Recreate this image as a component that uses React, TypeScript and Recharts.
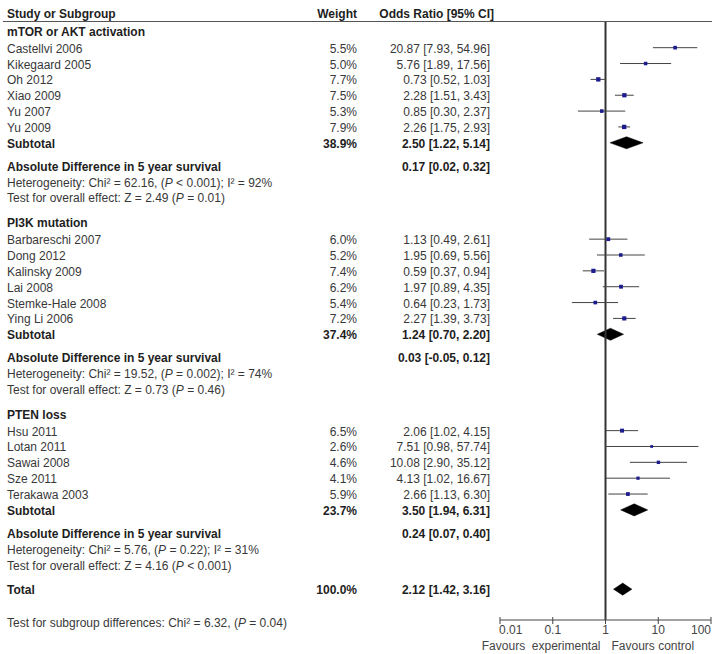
import React from 'react';
import { ScatterChart, Scatter, XAxis, YAxis, ErrorBar, ReferenceLine, ReferenceArea } from 'recharts';

// ---------------- data ----------------
const groupTitles = ['mTOR or AKT activation', 'PI3K mutation', 'PTEN loss'];

const studyLabels = [
  ['Castellvi 2006', 'Kikegaard 2005', 'Oh 2012', 'Xiao 2009', 'Yu 2007', 'Yu 2009'],
  ['Barbareschi 2007', 'Dong 2012', 'Kalinsky 2009', 'Lai 2008', 'Stemke-Hale 2008', 'Ying Li 2006'],
  ['Hsu 2011', 'Lotan 2011', 'Sawai 2008', 'Sze 2011', 'Terakawa 2003'],
];
const studyWeights = [
  [5.5, 5.0, 7.7, 7.5, 5.3, 7.9],
  [6.0, 5.2, 7.4, 6.2, 5.4, 7.2],
  [6.5, 2.6, 4.6, 4.1, 5.9],
];
const studyOR = [
  [20.87, 5.76, 0.73, 2.28, 0.85, 2.26],
  [1.13, 1.95, 0.59, 1.97, 0.64, 2.27],
  [2.06, 7.51, 10.08, 4.13, 2.66],
];
const studyLow = [
  [7.93, 1.89, 0.52, 1.51, 0.3, 1.75],
  [0.49, 0.69, 0.37, 0.89, 0.23, 1.39],
  [1.02, 0.98, 2.9, 1.02, 1.13],
];
const studyHigh = [
  [54.96, 17.56, 1.03, 3.43, 2.37, 2.93],
  [2.61, 5.56, 0.94, 4.35, 1.73, 3.73],
  [4.15, 57.74, 35.12, 16.67, 6.3],
];

const subtotalWeights = [38.9, 37.4, 23.7];
const subtotalOR = [2.5, 1.24, 3.5];
const subtotalLow = [1.22, 0.7, 1.94];
const subtotalHigh = [5.14, 2.2, 6.31];

const absDiffEst = [0.17, 0.03, 0.24];
const absDiffLow = [0.02, -0.05, 0.07];
const absDiffHigh = [0.32, 0.12, 0.4];

const hetChi = [62.16, 19.52, 5.76];
const hetP = ['< 0.001', '= 0.002', '= 0.22'];
const hetI2 = [92, 74, 31];
const testZ = [2.49, 0.73, 4.16];
const testP = ['= 0.01', '= 0.46', '< 0.001'];

const totalWeight = 100.0;
const totalOR = 2.12;
const totalLow = 1.42;
const totalHigh = 3.16;

const subgroupChi = 6.32;
const subgroupP = '= 0.04';

const axisTicks = [0.01, 0.1, 1, 10, 100];
const axisTickLabels = ['0.01', '0.1', '1', '10', '100'];
const favoursLeft = 'Favours\u00a0 experimental';
const favoursRight = 'Favours control';

// ---------------- layout / styles ----------------
const FONT = '"Liberation Sans", Arial, Helvetica, sans-serif';
const FS = 12;
const TXT = '#383838';
const BOLD = '#1e1e1e';
const COL_NAME = 7;
const COL_WEIGHT = 357;
const COL_OR = 490;
const Y_TOP = -1.62;
const Y_BOTTOM = 36.107;
const DIAMOND_HALF = 0.38;

const f2 = (v: number) => v.toFixed(2);
const orText = (e: number, l: number, h: number) => `${f2(e)} [${f2(l)}, ${f2(h)}]`;
const wText = (w: number) => `${w.toFixed(1)}%`;

type Seg = { t: string; i?: boolean };
type Row = { slot: number; label: Seg[]; weight?: string; or?: string; bold: boolean };

const rows: Row[] = [];
const points: any[] = [];
const diamonds: any[] = [];

let pos = -1.08;
groupTitles.forEach((title, g) => {
  if (g > 0) pos += 1.55;
  rows.push({ slot: pos, label: [{ t: title }], bold: true });
  pos += 1.08;
  studyLabels[g].forEach((name, i) => {
    if (i > 0) pos += 1;
    const e = studyOR[g][i], l = studyLow[g][i], h = studyHigh[g][i];
    rows.push({ slot: pos, label: [{ t: name }], weight: wText(studyWeights[g][i]), or: orText(e, l, h), bold: false });
    points.push({ slot: pos, or: e, err: [e - l, h - e], weight: studyWeights[g][i] });
  });
  pos += 1;
  rows.push({ slot: pos, label: [{ t: 'Subtotal' }], weight: wText(subtotalWeights[g]), or: orText(subtotalOR[g], subtotalLow[g], subtotalHigh[g]), bold: true });
  diamonds.push({ slot: pos, est: subtotalOR[g], lo: subtotalLow[g], hi: subtotalHigh[g] });
  pos += 1.45;
  rows.push({ slot: pos, label: [{ t: 'Absolute Difference in 5 year survival' }], or: orText(absDiffEst[g], absDiffLow[g], absDiffHigh[g]), bold: true });
  pos += 1;
  rows.push({
    slot: pos,
    label: [{ t: `Heterogeneity: Chi\u00b2 = ${f2(hetChi[g])}, (` }, { t: 'P', i: true }, { t: ` ${hetP[g]}); I\u00b2 = ${hetI2[g]}%` }],
    bold: false,
  });
  pos += 1;
  rows.push({
    slot: pos,
    label: [{ t: `Test for overall effect: Z = ${f2(testZ[g])} (` }, { t: 'P', i: true }, { t: ` ${testP[g]})` }],
    bold: false,
  });
});
pos += 1.55;
rows.push({ slot: pos, label: [{ t: 'Total' }], weight: wText(totalWeight), or: orText(totalOR, totalLow, totalHigh), bold: true });
diamonds.push({ slot: pos, est: totalOR, lo: totalLow, hi: totalHigh });

const rowSlots = rows.map((r) => r.slot);
const rowBySlot: Record<string, Row> = {};
rows.forEach((r) => (rowBySlot[r.slot.toFixed(4)] = r));

// ---------------- components ----------------
const RowTick = (props: any) => {
  const { y, payload } = props;
  const row = rowBySlot[Number(payload.value).toFixed(4)];
  if (!row) return null;
  const common = {
    fontFamily: FONT,
    fontSize: FS,
    fontWeight: row.bold ? 700 : 400,
    fill: row.bold ? BOLD : TXT,
    dominantBaseline: 'central' as const,
  };
  const ty = y + 1;
  return (
    <g>
      <text x={COL_NAME} y={ty} textAnchor="start" {...common}>
        {row.label.map((s, k) => (
          <tspan key={k} fontStyle={s.i ? 'italic' : 'normal'}>{s.t}</tspan>
        ))}
      </text>
      {row.weight && (
        <text x={COL_WEIGHT} y={ty} textAnchor="end" {...common}>{row.weight}</text>
      )}
      {row.or && (
        <text x={COL_OR} y={ty} textAnchor="end" {...common}>{row.or}</text>
      )}
    </g>
  );
};

const XTick = (props: any) => {
  const { x, y, payload, index } = props;
  const v = payload.value;
  const idx = axisTicks.indexOf(v);
  const label = idx >= 0 ? axisTickLabels[idx] : String(v);
  let anchor: 'start' | 'middle' | 'end' = 'middle';
  let lx = x;
  if (idx === 0) { anchor = 'start'; lx = x - 1; }
  if (idx === axisTicks.length - 1) { anchor = 'end'; lx = x; }
  const tstyle = { fontFamily: FONT, fontSize: FS, fill: '#444', dominantBaseline: 'central' as const };
  return (
    <g>
      <line x1={x} x2={x} y1={y - 3} y2={y + 4} stroke="#444" strokeWidth={1} />
      <text x={lx} y={y + 10} textAnchor={anchor} {...tstyle}>{label}</text>
      {v === 1 && (
        <>
          <text x={x - 5} y={y + 26} textAnchor="end" {...tstyle}>{favoursLeft}</text>
          <text x={x + 6} y={y + 26} textAnchor="start" {...tstyle}>{favoursRight}</text>
        </>
      )}
    </g>
  );
};

const Square = (props: any) => {
  const { cx, cy, payload } = props;
  if (cx == null || cy == null) return null;
  const s = 2 + payload.weight * 0.3;
  return <rect x={cx - s / 2} y={cy - s / 2} width={s} height={s} fill="#1c1c8e" />;
};

const makeDiamond = (d: any) => (p: any) => {
  const { x, y, width, height } = p;
  if (x == null) return null;
  const frac = (Math.log(d.est) - Math.log(d.lo)) / (Math.log(d.hi) - Math.log(d.lo));
  const mx = x + width * frac;
  const my = y + height / 2;
  const pts = `${x},${my} ${mx},${y} ${x + width},${my} ${mx},${y + height}`;
  return <polygon points={pts} fill="#000" stroke="#000" strokeWidth={0.5} />;
};

export default function App() {
  const hstyle = { fontFamily: FONT, fontSize: FS, fontWeight: 700, fill: BOLD, dominantBaseline: 'central' as const };
  return (
    <div style={{ position: 'absolute', left: 0, top: 0, width: 712, height: 654, background: '#fff' }}>
      <ScatterChart width={712} height={654} margin={{ top: 22, right: 1, bottom: 0, left: 0 }}>
        <XAxis
          type="number"
          dataKey="or"
          scale="log"
          domain={[0.01, 100]}
          ticks={axisTicks}
          allowDataOverflow
          height={34}
          interval={0}
          tickSize={0}
          tickMargin={0}
          tickLine={false}
          axisLine={{ stroke: '#444', strokeWidth: 1 }}
          tick={<XTick />}
        />
        <YAxis
          type="number"
          dataKey="slot"
          domain={[Y_TOP, Y_BOTTOM]}
          reversed
          allowDataOverflow
          width={500}
          ticks={rowSlots}
          interval={0}
          tickSize={0}
          tickLine={false}
          axisLine={false}
          tick={<RowTick />}
        />
        <ReferenceLine x={1} stroke="#333" strokeWidth={2} />
        {diamonds.map((d, i) => (
          <ReferenceArea
            key={i}
            x1={d.lo}
            x2={d.hi}
            y1={d.slot - DIAMOND_HALF}
            y2={d.slot + DIAMOND_HALF}
            shape={makeDiamond(d)}
          />
        ))}
        <Scatter data={points} isAnimationActive={false} shape={<Square />}>
          <ErrorBar dataKey="err" direction="x" width={0} stroke="#444" strokeWidth={1} isAnimationActive={false} />
        </Scatter>
      </ScatterChart>
      <svg width={712} height={654} style={{ position: 'absolute', left: 0, top: 0, pointerEvents: 'none' }}>
        <text x={COL_NAME} y={14} textAnchor="start" {...hstyle}>Study or Subgroup</text>
        <text x={COL_WEIGHT} y={14} textAnchor="end" {...hstyle}>Weight</text>
        <text x={494} y={14} textAnchor="end" {...hstyle}>Odds Ratio [95% CI]</text>
        <line x1={3} x2={712} y1={21.5} y2={21.5} stroke="#555" strokeWidth={1.2} />
        <text x={COL_NAME} y={623} textAnchor="start" fontFamily={FONT} fontSize={FS} fill={TXT} dominantBaseline="central">
          <tspan>{`Test for subgroup differences: Chi\u00b2 = ${f2(subgroupChi)}, (`}</tspan>
          <tspan fontStyle="italic">P</tspan>
          <tspan>{` ${subgroupP})`}</tspan>
        </text>
      </svg>
    </div>
  );
}
